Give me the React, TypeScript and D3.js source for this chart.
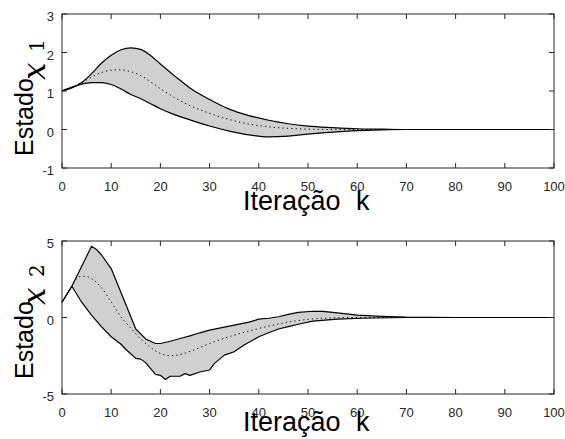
import React from "react";
import * as d3 from "d3";

// ---------- data ----------
const K_TICKS = [0, 10, 20, 30, 40, 50, 60, 70, 80, 90, 100];
const X1_TICKS = [-1, 0, 1, 2, 3];
const X2_TICKS = [-5, 0, 5];

// state x1 (shared iteration grid)
const K1 = [0, 2, 4, 6, 8, 10, 12, 14, 16, 18, 20, 23, 26, 30, 34, 38, 42, 46, 50, 55, 60, 65, 70, 80, 100];
const X1_UPPER = [1.0, 1.08, 1.22, 1.45, 1.72, 1.93, 2.07, 2.12, 2.08, 1.92, 1.7, 1.38, 1.08, 0.78, 0.53, 0.36, 0.24, 0.15, 0.09, 0.05, 0.02, 0.01, 0, 0, 0];
const X1_LOWER = [1.0, 1.1, 1.18, 1.22, 1.22, 1.17, 1.05, 0.91, 0.8, 0.67, 0.54, 0.38, 0.25, 0.09, -0.04, -0.14, -0.19, -0.17, -0.12, -0.07, -0.03, -0.01, 0, 0, 0];
const X1_MEAN = [1.0, 1.09, 1.22, 1.36, 1.48, 1.54, 1.55, 1.5, 1.4, 1.24, 1.06, 0.82, 0.62, 0.42, 0.26, 0.14, 0.07, 0.03, 0.01, 0, 0, 0, 0, 0, 0];

// state x2
const K2_UPPER = [0, 2, 6, 7, 8, 10, 15, 17, 19, 20, 22, 24, 26, 28, 30, 32, 35, 38, 40, 42, 44, 46, 48, 51, 53, 56, 60, 65, 70, 80, 100];
const X2_UPPER = [1.0, 2.04, 4.65, 4.45, 4.1, 3.2, -0.75, -1.4, -1.7, -1.7, -1.55, -1.37, -1.2, -1.0, -0.83, -0.7, -0.5, -0.3, -0.11, -0.05, 0.05, 0.2, 0.33, 0.41, 0.4, 0.3, 0.15, 0.07, 0.02, 0, 0];
const K2_LOWER = [0, 2, 4, 6, 8, 10, 12, 13, 15, 16, 17, 19, 20, 21, 22, 24, 25, 26, 28, 30, 31, 33, 35, 37, 40, 42, 44, 46, 48, 51, 56, 61, 70, 100];
const X2_LOWER = [1.0, 2.04, 1.0, 0.15, -0.6, -1.26, -1.75, -2.09, -2.67, -2.72, -2.95, -3.72, -3.78, -4.05, -3.84, -3.84, -3.67, -3.78, -3.56, -3.43, -3.0, -2.46, -2.24, -1.8, -1.26, -1.0, -0.75, -0.6, -0.44, -0.24, -0.11, -0.05, 0, 0];
const K2_MEAN = [0, 2, 3, 4, 5, 6, 7, 8, 10, 12, 14, 16, 18, 20, 22, 24, 26, 30, 35, 40, 44, 48, 53, 60, 100];
const X2_MEAN = [1.0, 2.04, 2.55, 2.7, 2.68, 2.55, 2.3, 1.95, 1.02, 0.04, -0.7, -1.4, -1.95, -2.35, -2.5, -2.42, -2.22, -1.7, -1.15, -0.72, -0.42, -0.2, -0.05, 0, 0];

// ---------- layout ----------
const W = 565;
const H = 439;
const LEFT = 62;
const RIGHT = 554;
const AXIS_COLOR = "#262626";
const SANS = "'Liberation Sans', Arial, Helvetica, sans-serif";
const SERIF = "'DejaVu Serif', serif";

type P = [number, number];
const zip = (k: number[], v: number[]): P[] => k.map((kk, i) => [kk, v[i]]);

function Frame({ y, top, bottom, yTicks, xTickBase }: any) {
  const x = d3.scaleLinear().domain([0, 100]).range([LEFT, RIGHT]);
  const tl = 5;
  return (
    <g>
      <rect x={LEFT} y={top} width={RIGHT - LEFT} height={bottom - top} fill="none" stroke={AXIS_COLOR} strokeWidth={1} />
      {K_TICKS.map((t) => (
        <g key={"x" + t}>
          <line x1={x(t)} x2={x(t)} y1={bottom} y2={bottom - tl} stroke={AXIS_COLOR} />
          <line x1={x(t)} x2={x(t)} y1={top} y2={top + tl} stroke={AXIS_COLOR} />
          <text x={x(t)} y={xTickBase} textAnchor="middle" fontFamily={SANS} fontSize={13} fill={AXIS_COLOR}>
            {t}
          </text>
        </g>
      ))}
      {yTicks.map((t: number) => (
        <g key={"y" + t}>
          <line x1={LEFT} x2={LEFT + tl} y1={y(t)} y2={y(t)} stroke={AXIS_COLOR} />
          <line x1={RIGHT} x2={RIGHT - tl} y1={y(t)} y2={y(t)} stroke={AXIS_COLOR} />
          <text x={54} y={y(t) + 7} textAnchor="end" fontFamily={SANS} fontSize={13} fill={AXIS_COLOR}>
            {t}
          </text>
        </g>
      ))}
    </g>
  );
}

function Labels({ titleBase, estadoStart, xStart, subStart, sub }: any) {
  return (
    <g>
      <text x={243} y={titleBase} fontFamily={SANS} fontSize={27} fill="#000">Iteração</text>
      <text x={356} y={titleBase} fontFamily={SANS} fontSize={27} fill="#000">k</text>
      <text transform={`translate(33,${estadoStart}) rotate(-90)`} fontFamily={SANS} fontSize={25} fill="#000">Estado</text>
      <text transform={`translate(45,${xStart}) rotate(-90)`} fontFamily={SERIF} fontStyle="italic" fontSize={31} fill="#000">x</text>
      <text transform={`translate(44,${subStart}) rotate(-90)`} fontFamily={SERIF} fontSize={20} fill="#000">{sub}</text>
    </g>
  );
}

export default function App() {
  const x = d3.scaleLinear().domain([0, 100]).range([LEFT, RIGHT]);

  // top panel
  const y1 = d3.scaleLinear().domain([-1, 3]).range([168, 14]);
  const top = K1.map((k, i) => ({ k, u: X1_UPPER[i], l: X1_LOWER[i], m: X1_MEAN[i] }));
  const area1 = d3
    .area<any>()
    .x((d) => x(d.k))
    .y0((d) => y1(d.l))
    .y1((d) => y1(d.u))
    .curve(d3.curveMonotoneX)(top) as string;
  const lineU1 = d3.line<any>().x((d) => x(d.k)).y((d) => y1(d.u)).curve(d3.curveMonotoneX)(top) as string;
  const lineL1 = d3.line<any>().x((d) => x(d.k)).y((d) => y1(d.l)).curve(d3.curveMonotoneX)(top) as string;
  const lineM1 = d3.line<any>().x((d) => x(d.k)).y((d) => y1(d.m)).curve(d3.curveMonotoneX)(top) as string;

  // bottom panel
  const y2 = d3.scaleLinear().domain([-5, 5]).range([394, 241]);
  const up2 = zip(K2_UPPER, X2_UPPER);
  const lo2 = zip(K2_LOWER, X2_LOWER);
  const me2 = zip(K2_MEAN, X2_MEAN);
  const lin = d3.line<P>().x((d) => x(d[0])).y((d) => y2(d[1]));
  const poly2 = (lin([...up2, ...lo2.slice().reverse()]) as string) + "Z";
  const lineU2 = lin(up2) as string;
  const lineL2 = lin(lo2) as string;
  const lineM2 = d3.line<P>().x((d) => x(d[0])).y((d) => y2(d[1])).curve(d3.curveMonotoneX)(me2) as string;

  const FILL = "#d0d0d0";

  return (
    <svg width={W} height={H} style={{ position: "absolute", left: 0, top: 0, background: "#fff" }}>
      <rect width={W} height={H} fill="#fff" />
      {/* top */}
      <path d={area1} fill={FILL} stroke="none" />
      <path d={lineU1} fill="none" stroke="#000" strokeWidth={1.2} />
      <path d={lineL1} fill="none" stroke="#000" strokeWidth={1.2} />
      <path d={lineM1} fill="none" stroke="#000" strokeWidth={1} strokeDasharray="1.2,3.2" />
      <Frame y={y1} top={14} bottom={168} yTicks={X1_TICKS} xTickBase={191} />
      <Labels titleBase={210} estadoStart={156} xStart={80} subStart={52} sub="1" />

      {/* bottom */}
      <path d={poly2} fill={FILL} stroke="none" />
      <path d={lineU2} fill="none" stroke="#000" strokeWidth={1.2} strokeLinejoin="round" />
      <path d={lineL2} fill="none" stroke="#000" strokeWidth={1.2} strokeLinejoin="round" />
      <path d={lineM2} fill="none" stroke="#000" strokeWidth={1} strokeDasharray="1.2,3.2" />
      <Frame y={y2} top={241} bottom={394} yTicks={X2_TICKS} xTickBase={417} />
      <Labels titleBase={431} estadoStart={379} xStart={305} subStart={277} sub="2" />
    </svg>
  );
}
